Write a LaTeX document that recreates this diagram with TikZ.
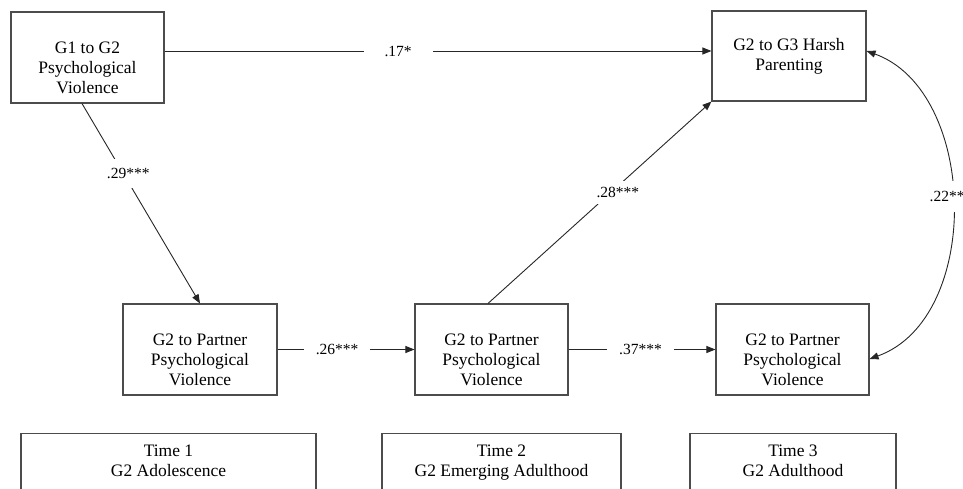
\documentclass[tikz,border=0pt]{standalone}
\usepackage{fontspec}
\setmainfont{Liberation Serif}
\usetikzlibrary{arrows.meta}

\begin{document}
\begin{tikzpicture}[x=1pt, y=-1pt,
  box/.style={draw=black!70, line width=1.1pt, minimum width=153pt, minimum height=91pt, inner sep=0pt, align=center, text height=72pt, font=\fontsize{17.5}{20}\selectfont},
  timebox/.style={draw=black!70, line width=1.1pt, anchor=north, inner xsep=0pt, inner ysep=11pt, align=center, text depth=50pt, font=\fontsize{17.5}{20}\selectfont},
  effect/.style={draw=black!85, line width=0.9pt, -{Triangle[length=9pt,width=7pt]}},
  coef/.style={fill=white, inner xsep=12pt, inner ysep=6pt, font=\fontsize{15.5}{17}\selectfont}]
\useasboundingbox (0,0) rectangle (963,489);
\node[box] (g1) at (87.5,57.5) {G1 to G2\\Psychological\\Violence};
\node[box, minimum width=154pt, minimum height=90pt, text height=32pt] (harsh) at (789,56) {G2 to G3 Harsh\\Parenting};
\node[box, minimum width=154pt] (pt1) at (200,349.5) {G2 to Partner\\Psychological\\Violence};
\node[box] (pt2) at (491.5,349.5) {G2 to Partner\\Psychological\\Violence};
\node[box] (pt3) at (792.5,349.5) {G2 to Partner\\Psychological\\Violence};
\node[timebox, minimum width=295pt] (t1) at (168.5,433) {Time 1\\G2 Adolescence};
\node[timebox, minimum width=239pt] (t2) at (501.5,433) {Time 2\\G2 Emerging Adulthood};
\node[timebox, minimum width=206pt] (t3) at (793,433) {Time 3\\G2 Adulthood};
% paths
\draw[effect] ([yshift=6.5pt]g1.east) -- ([yshift=5pt]harsh.west) node[coef, pos=0.427, inner xsep=21pt] (c17) {.17*};
\draw[effect] ([xshift=-5.5pt]g1.south) -- (pt1.north) node[coef, pos=0.35, xshift=5pt, inner ysep=9pt] (c29) {.29***};
\draw[effect] (pt1.east) -- (pt2.west) node[coef, pos=0.435] (c26) {.26***};
\draw[effect] (pt2.east) -- (pt3.west) node[coef, pos=0.49] (c37) {.37***};
\draw[effect] ([xshift=-3.5pt]pt2.north) -- (harsh.south west) node[coef, pos=0.55, xshift=7pt] (c28) {.28***};
\draw[effect, {Triangle[length=9pt,width=7pt]}-{Triangle[length=9pt,width=7pt]}] ([yshift=5pt]harsh.east) .. controls (978,91) and (983,318) .. ([yshift=-9.5pt]pt3.east) node[coef, pos=0.48, xshift=-5pt, inner ysep=10pt] (c22) {.22**};
\end{tikzpicture}
\end{document}
